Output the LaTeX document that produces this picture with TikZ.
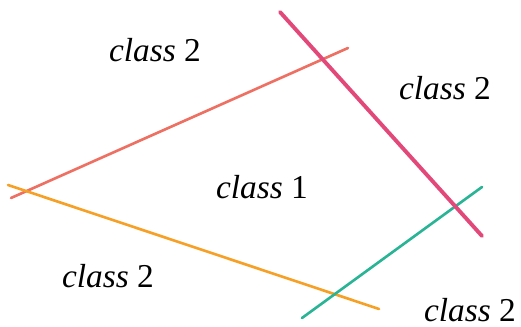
\documentclass[tikz,border=0pt]{standalone}
\usepackage{fontspec}
\setmainfont{Liberation Serif}
\definecolor{lineSalmon}{RGB}{238,112,98}
\definecolor{linePink}{RGB}{226,72,122}
\definecolor{lineOrange}{RGB}{246,160,38}
\definecolor{lineTeal}{RGB}{42,180,150}
\tikzset{
  classlabel/.style={font=\fontsize{19}{22}\selectfont, inner sep=0pt},
  boundary/.style={line width=1.5pt, line cap=round}
}
\newcommand{\cls}[1]{\textit{class}~#1}

\begin{document}
\begin{tikzpicture}[x=0.02cm, y=-0.02cm]
    \useasboundingbox (0,0) rectangle (521,327);
    % end points of the boundaries
    \coordinate (salmonA) at (11,198);
    \coordinate (salmonB) at (348,48);
    \coordinate (pinkA) at (280,12);
    \coordinate (pinkB) at (482,236);
    \coordinate (orangeA) at (8,185);
    \coordinate (orangeB) at (379,309);
    \coordinate (tealA) at (302,318);
    \coordinate (tealB) at (482,187);

    \draw[boundary, lineSalmon] (salmonA) -- (salmonB);
    \draw[boundary, lineOrange] (orangeA) -- (orangeB);
    \draw[boundary, lineTeal] (tealA) -- (tealB);
    \draw[boundary, linePink, line width=2.2pt] (pinkA) -- (pinkB);

    % labels
    \node[classlabel] (topleft) at (155,50) {\cls{2}};
    \node[classlabel] (topright) at (445,88) {\cls{2}};
    \node[classlabel] (middle) at (262,187) {\cls{1}};
    \node[classlabel] (bottomleft) at (108,276) {\cls{2}};
    \node[classlabel] (bottomright) at (470,310) {\cls{2}};
\end{tikzpicture}
\end{document}
